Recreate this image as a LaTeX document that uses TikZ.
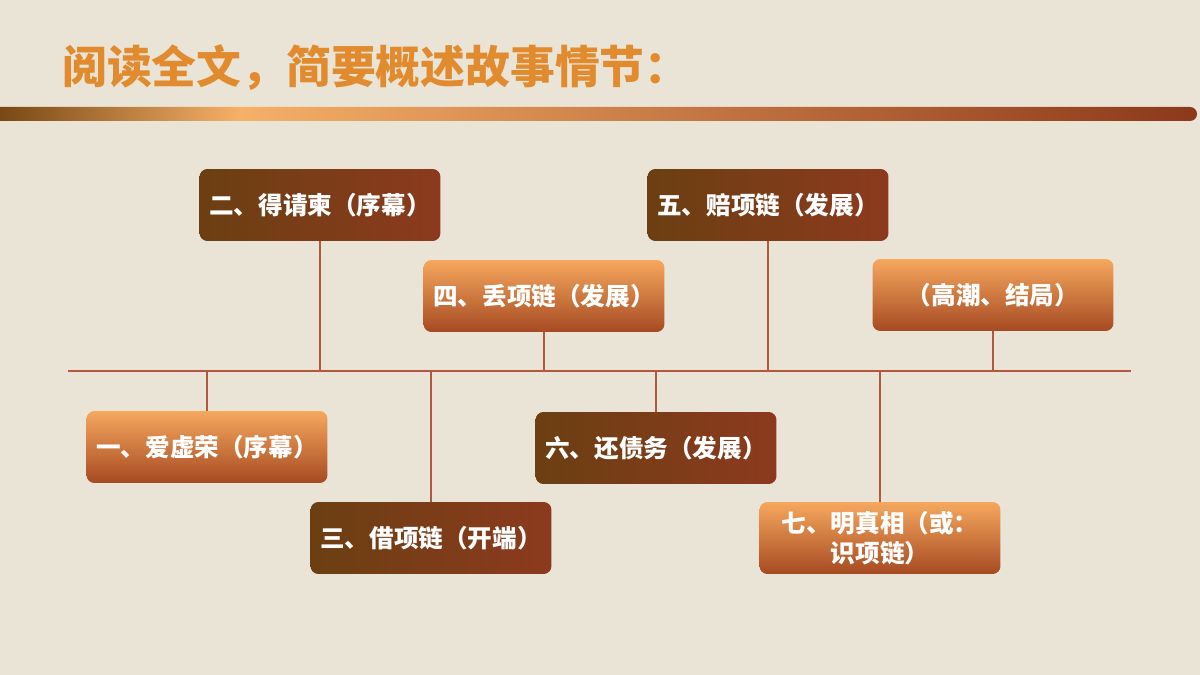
\documentclass[tikz,border=0pt]{standalone}
\usepackage{fontspec}
\newfontfamily\cjk{Noto Sans CJK SC}
\usetikzlibrary{positioning}
\definecolor{PaperBg}{RGB}{234,228,214}
\definecolor{TitleOrange}{RGB}{226,139,46}
\definecolor{BarDark}{RGB}{120,72,20}
\definecolor{BarLight}{RGB}{246,176,104}
\definecolor{BarRust}{RGB}{140,56,26}
\definecolor{DarkLeft}{RGB}{107,63,18}
\definecolor{DarkRight}{RGB}{140,58,30}
\definecolor{LightTop}{RGB}{246,168,94}
\definecolor{LightBottom}{RGB}{166,74,34}
\definecolor{AxisLine}{RGB}{181,87,62}
\pgfdeclarehorizontalshading{barshade}{100bp}{color(0bp)=(BarDark); color(25bp)=(BarDark);
  color(35bp)=(BarLight); color(75bp)=(BarRust); color(100bp)=(BarRust)}

\begin{document}
\begin{tikzpicture}[
    x=0.02cm, y=-0.02cm,
    event/.style={
        rectangle, rounded corners=4.5pt, minimum width=4.82cm,
        minimum height=1.44cm, inner sep=2pt, align=center, text=white,
        font=\cjk\bfseries\fontsize{14pt}{17pt}\selectfont
    },
    dark/.style={event, left color=DarkLeft, right color=DarkRight},
    light/.style={event, top color=LightTop, bottom color=LightBottom},
    stem/.style={AxisLine, line width=0.9pt}
]

% ===================================================================
% PAGE
% ===================================================================
\fill[PaperBg] (0,0) rectangle (1200,675);
\useasboundingbox (0,0) rectangle (1200,675);

\node[anchor=west, inner sep=0pt, text=TitleOrange,
      font=\cjk\bfseries\fontsize{25.5pt}{30pt}\selectfont] (title)
    at (62,68) {阅读全文，简要概述故事情节：};
\shade[shading=barshade] (0,107) -- (1190,107)
    arc[start angle=-90, end angle=90, radius=7] -- (0,121) -- cycle;

% ===================================================================
% TIMELINE
% ===================================================================
\coordinate (axl) at (68,371);
\coordinate (axr) at (1131,371);
\draw[stem] (axl) -- (axr);

\node[dark]  (qingjian)  at (320,205) {二、得请柬（序幕）};
\node[light] (diu)       at (544,296) {四、丢项链（发展）};
\node[dark]  (pei)       at (768,205) {五、赔项链（发展）};
\node[light] (gaochao)   at (993,295) {（高潮、结局）};

\node[light] (xurong)    at (207,447) {一、爱虚荣（序幕）};
\node[dark]  (jie)       at (431,538) {三、借项链（开端）};
\node[dark]  (huan)      at (656,448) {六、还债务（发展）};
\node[light] (zhenxiang) at (880,538) {七、明真相（或：\\识项链）};

% ===================================================================
% STEMS
% ===================================================================
\foreach \n in {qingjian, diu, pei, gaochao} {
    \draw[stem] (\n.south) -- (\n.south |- axl);
}
\foreach \n in {xurong, jie, huan, zhenxiang} {
    \draw[stem] (\n.north) -- (\n.north |- axl);
}

\end{tikzpicture}
\end{document}
